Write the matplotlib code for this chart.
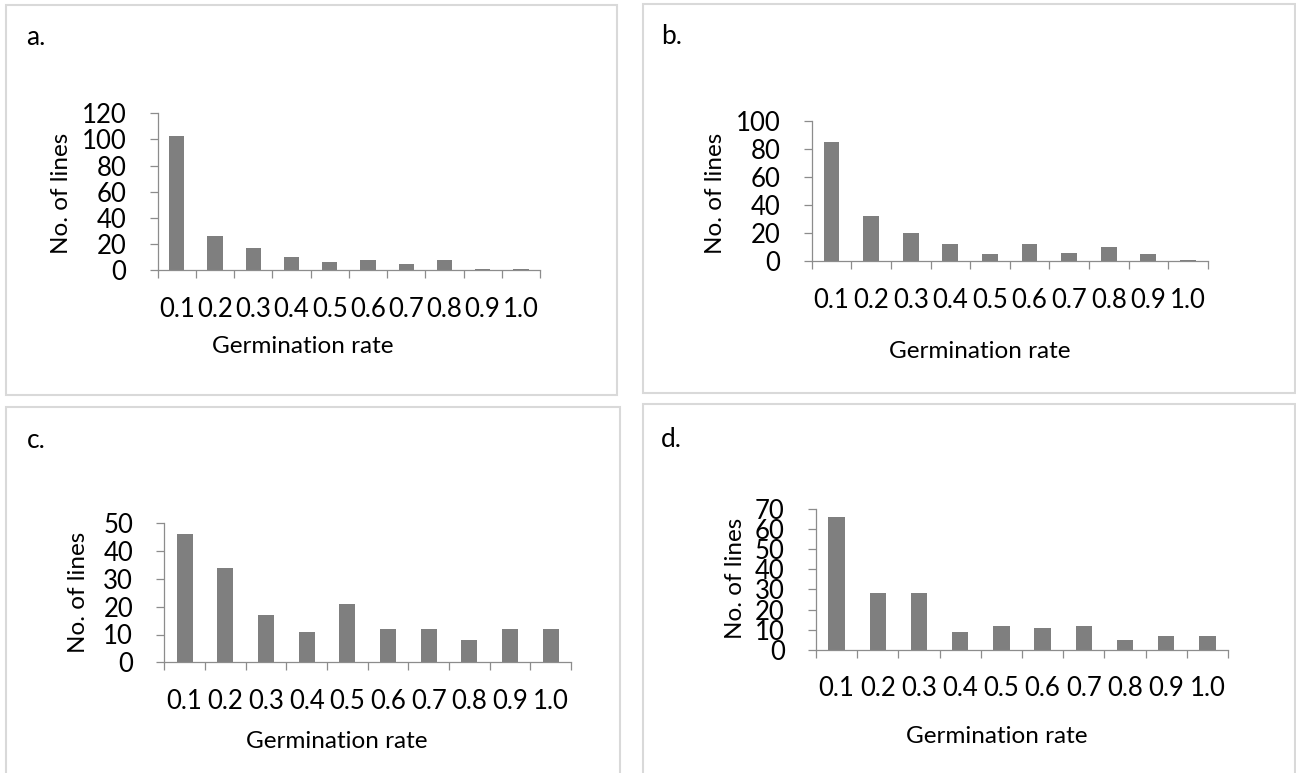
import matplotlib
matplotlib.use('Agg')
import matplotlib.pyplot as plt
from matplotlib.patches import Rectangle

plt.rcParams['font.family'] = ['Lato', 'DejaVu Sans']

# Germination rate classes and number of lines in each class, per panel
rates = ['0.1', '0.2', '0.3', '0.4', '0.5', '0.6', '0.7', '0.8', '0.9', '1.0']
counts_a = [103, 26, 17, 10, 6, 8, 5, 8, 1, 1]
counts_b = [85, 32, 20, 12, 5, 12, 6, 10, 5, 1]
counts_c = [46, 34, 17, 11, 21, 12, 12, 8, 12, 12]
counts_d = [66, 28, 28, 9, 12, 11, 12, 5, 7, 7]
y_max = [120, 100, 50, 70]
y_step = [20, 20, 10, 10]
letters = ['a.', 'b.', 'c.', 'd.']

W, H = 1296, 773
fig = plt.figure(figsize=(W / 100, H / 100), dpi=100)

# layout in pixels: plot area (left, right, top, bottom), panel frame,
# letter position, axis-label centres
panels = [
    dict(plot=(157.7, 540, 113.3, 270.3), frame=(6, 617, 5, 395),
         letter=(26, 45), xlab=(303, 346.7), ylab=(61, 193)),
    dict(plot=(811.7, 1207.7, 121, 261.3), frame=(643, 1295, 4, 393),
         letter=(661, 44), xlab=(980, 351.7), ylab=(716, 193)),
    dict(plot=(164.3, 571, 523.3, 662.3), frame=(6, 620, 407, 800),
         letter=(27, 448), xlab=(336.7, 741.7), ylab=(79, 592)),
    dict(plot=(816, 1228, 509, 649.7), frame=(643, 1295, 404, 800),
         letter=(661, 447), xlab=(996.7, 736.7), ylab=(735, 578)),
]
series = [counts_a, counts_b, counts_c, counts_d]

axis_grey = '#8c8c8c'
tick_fs = 18.5
label_fs = 17.5

for p, counts, ymax, step, letter in zip(panels, series, y_max, y_step, letters):
    # light frame around each panel
    fx0, fx1, fy0, fy1 = p['frame']
    fig.add_artist(Rectangle((fx0 / W, 1 - fy1 / H), (fx1 - fx0) / W, (fy1 - fy0) / H,
                             transform=fig.transFigure, fill=False,
                             edgecolor='#d9d9d9', linewidth=1.5))
    fig.text(p['letter'][0] / W, 1 - p['letter'][1] / H, letter,
             fontsize=19, va='baseline', ha='left')

    l, r, t, b = p['plot']
    ax = fig.add_axes([l / W, 1 - b / H, (r - l) / W, (b - t) / H])
    centers = [i + 0.5 for i in range(len(rates))]
    ax.bar(centers, counts, width=0.4, color='#7f7f7f')
    ax.set_xlim(0, len(rates))
    ax.set_ylim(0, ymax)

    for side in ['top', 'right']:
        ax.spines[side].set_visible(False)
    for side in ['left', 'bottom']:
        ax.spines[side].set_color(axis_grey)
        ax.spines[side].set_linewidth(0.9)

    ax.set_yticks(range(0, ymax + 1, step))
    ax.tick_params(axis='y', direction='out', length=5.5, width=0.9,
                   color=axis_grey, pad=17, labelsize=tick_fs)
    # labels at category centres, tick marks between categories
    ax.set_xticks(centers, rates)
    ax.set_xticks(range(len(rates) + 1), minor=True)
    ax.tick_params(axis='x', which='major', length=0, pad=19, labelsize=tick_fs)
    ax.tick_params(axis='x', which='minor', direction='out', length=5.5,
                   width=0.9, color=axis_grey)

    ax.set_xlabel('Germination rate', fontsize=label_fs)
    ax.set_ylabel('No. of lines', fontsize=label_fs)
    ax.xaxis.set_label_coords((p['xlab'][0] - l) / (r - l), (b - p['xlab'][1]) / (b - t))
    ax.yaxis.set_label_coords((p['ylab'][0] - l) / (r - l), (b - p['ylab'][1]) / (b - t))
    ax.xaxis.label.set_va('center')
    ax.yaxis.label.set_va('center')

fig.savefig('out.png', dpi=100, facecolor='white')
